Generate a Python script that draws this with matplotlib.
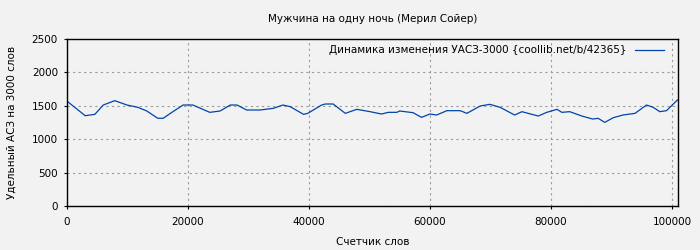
import matplotlib
matplotlib.use("Agg")
import matplotlib.pyplot as plt

x_words = [0, 3000, 4600, 6000, 7900, 9900, 11700, 13200, 15000, 15900, 17500, 19200, 20800,
           23600, 25300, 27000, 28100, 29700, 31900, 34100, 35700, 36900, 39100, 39800,
           42100, 42700, 44000, 46000, 47900, 50100, 52000, 53100, 54500, 55000, 57200,
           58600, 60000, 61100, 62800, 65000, 66100, 68300, 69900, 71600, 74000, 75200,
           77900, 79300, 81000, 81800, 83100, 85100, 86900, 87800, 88900, 90300, 91900,
           93900, 95800, 96900, 98000, 99100, 100900]
y_vals = [1570, 1352, 1372, 1512, 1577, 1512, 1477, 1422, 1313, 1313, 1412, 1512, 1512,
          1402, 1422, 1512, 1512, 1437, 1437, 1462, 1512, 1487, 1372, 1387,
          1512, 1527, 1527, 1387, 1447, 1412, 1377, 1402, 1402, 1422, 1397,
          1327, 1377, 1362, 1427, 1427, 1387, 1497, 1522, 1477, 1362, 1412,
          1347, 1402, 1447, 1402, 1412, 1347, 1302, 1312, 1252, 1322, 1362,
          1387, 1512, 1477, 1412, 1427, 1587]

title = "Мужчина на одну ночь (Мерил Сойер)"
legend_label = "Динамика изменения УАСЗ-3000 {coollib.net/b/42365}"
xlabel = "Счетчик слов"
ylabel = "Удельный АСЗ на 3000 слов"
xticks = [0, 20000, 40000, 60000, 80000, 100000]
yticks = [0, 500, 1000, 1500, 2000, 2500]

bg = "#f2f2f2"
fs = 7.5
fig = plt.figure(figsize=(7, 2.5), dpi=100, facecolor=bg)
ax = fig.add_axes([67/700, 1-206/250, (678-67)/700, (206-39)/250], facecolor=bg)
ax.plot(x_words, y_vals, color="#0044aa", lw=0.9, label=legend_label)
ax.set_xlim(0, 101000)
ax.set_ylim(0, 2500)
ax.set_xticks(xticks)
ax.set_xticklabels([str(v) for v in xticks])
ax.set_yticks(yticks)
ax.set_yticklabels([str(v) for v in yticks])
ax.tick_params(axis="y", labelsize=fs, length=2.5, width=0.8, color="black", pad=4)
ax.tick_params(axis="x", labelsize=fs, length=2, width=0.8, color="black", pad=6)
ax.grid(True, color="#999999", linestyle=(0, (2, 3)), linewidth=0.8)
for s in ax.spines.values():
    s.set_linewidth(1.0)
    s.set_color("black")
ax.set_title(title, fontsize=fs, pad=12)
ax.set_xlabel(xlabel, fontsize=fs, labelpad=7)
ax.set_ylabel(ylabel, fontsize=fs, labelpad=11)
leg = ax.legend(loc="upper right", fontsize=fs, frameon=False, handlelength=2.8,
                markerfirst=False, borderaxespad=0.2, handletextpad=0.8,
                bbox_to_anchor=(0.988, 1.0))
fig.savefig("out.png", dpi=100, facecolor=bg)
